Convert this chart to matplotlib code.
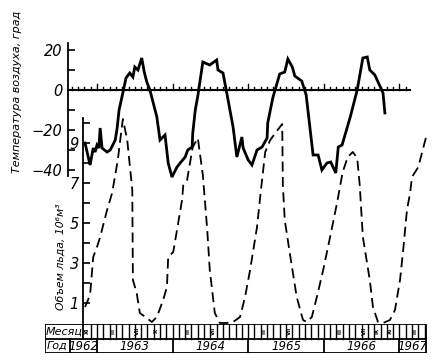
import matplotlib
matplotlib.use("Agg")
import matplotlib.pyplot as plt

# time in months counted from January 1962
temp_t = [10.1, 10.9, 11.4, 11.7, 12.0, 12.3, 12.5, 12.8, 13.6, 14.1, 14.9, 15.2, 15.5, 16.1,
          16.6, 17.2, 17.7, 18.0, 18.5, 19.1, 19.5, 19.9, 20.4, 21.5, 22.0, 22.8, 23.3, 23.9,
          24.7, 25.2, 26.0, 26.4, 27.1, 27.2, 27.6, 28.0, 28.8, 29.9, 31.0, 31.2, 32.0, 32.6,
          33.6, 34.2, 35.0, 35.2, 36.0, 36.6, 37.4, 38.2, 39.0, 39.1, 39.9, 41.0, 41.8, 42.3,
          43.0, 43.4, 44.5, 45.2, 46.3, 47.1, 47.7, 48.5, 49.1, 49.9, 50.3, 50.9, 52.2, 53.3,
          54.2, 54.9, 55.3, 56.1, 57.4, 57.7]
temp_v = [-26.5, -37.5, -29, -31, -27.5, -29, -19, -29, -31, -30, -25, -19, -10, -1.5,
          6, 8.5, 6.5, 11.5, 10, 16, 9, 4, 0, -13.5, -25, -22.5, -36.5, -43.5,
          -38.5, -36.5, -33.5, -30, -28.5, -21.5, -10, -3, 14, 12.5, 15, 10, 8.5, -1.5,
          -18.5, -33.5, -23.5, -29, -35, -37.5, -30, -28.5, -24, -16.5, -4, 8, 9, 15.5,
          11.5, 7, 4.5, -2.5, -32.5, -32.5, -40, -36.5, -36, -41.5, -28.5, -27.5, -13.5, 0,
          16, 16.5, 10, 7.5, -1.5, -11.5]

ice_t = [10.1, 10.9, 11.4, 12.0, 12.5, 13.6, 14.4, 15.3, 16.1, 16.8, 17.6, 17.7, 18.3, 18.8,
         19.9, 20.7, 21.5, 22.5, 23.1, 23.3, 24.1, 24.7, 25.5, 25.7, 26.3, 27.2, 28.0, 28.8,
         29.5, 29.9, 30.7, 31.5, 32.6, 33.6, 34.7, 35.5, 36.3, 37.4, 37.9, 38.7, 39.5, 40.3,
         41.4, 41.5, 41.8, 42.6, 43.7, 44.7, 45.3, 46.1, 46.9, 47.9, 49.0, 50.1, 51.0, 51.8,
         52.6, 53.3, 53.7, 54.2, 55.3, 55.8, 56.6, 57.4, 58.5, 59.3, 60.1, 60.6, 61.2, 61.7,
         62.0, 63.0, 64.4]
ice_v = [0.8, 1.4, 3.3, 3.8, 4.3, 5.65, 6.5, 8.15, 10.2, 9.15, 6.65, 2.15, 1.5, 0.5,
         0.25, 0.05, 0.3, 1.15, 1.8, 3.3, 3.55, 4.65, 6.15, 6.9, 7.15, 8.8, 9.25, 7.4,
         4.65, 2.65, 0.5, 0.0, 0.0, 0.05, 0.3, 1.3, 2.65, 4.8, 6.3, 8.55, 9.15, 9.5,
         9.95, 6.9, 5.15, 3.5, 1.3, 0.15, 0.05, 0.3, 1.3, 2.65, 4.3, 6.0, 7.55, 8.3,
         8.55, 8.25, 6.9, 4.3, 2.15, 0.8, 0.05, 0.0, 0.15, 0.65, 2.15, 3.65, 5.65, 6.5,
         7.3, 7.8, 9.5]

years = ["1962", "1963", "1964", "1965", "1966", "1967"]
year_starts = [7.7, 12, 24, 36, 48, 60]
roman = ["I", "II", "III", "IV", "V", "VI", "VII", "VIII", "IX", "X", "XI", "XII"]
marked_months = [10, 14, 18, 21, 26, 30, 38, 42, 50, 54, 56, 58, 62]

W, H = 438, 362
fig = plt.figure(figsize=(W / 100, H / 100), dpi=100)


def box(x0, y0, x1, y1):
    return [x0 / W, 1 - y1 / H, (x1 - x0) / W, (y1 - y0) / H]


def mon(px):
    return 12 + (px - 97) / 6.3


xl = (mon(45), mon(430))

# temperature
ax_t = fig.add_axes(box(45, 40, 430, 180))
ax_t.set_facecolor("none")
ax_t.set_xlim(xl)
ax_t.set_ylim(-45, 25)
for s in ["top", "right", "bottom"]:
    ax_t.spines[s].set_visible(False)
ax_t.spines["left"].set_position(("data", mon(68)))
ax_t.spines["left"].set_bounds(-43, 23.5)
ax_t.spines["left"].set_linewidth(1.3)
ax_t.set_xticks([])
ax_t.set_yticks([20, 0, -20, -40])
ax_t.set_yticklabels(["20", "0", "\u221220", "\u221240"], fontsize=10.5, style="italic")
ax_t.set_yticks([10, -10, -30], minor=True)
ax_t.tick_params(axis="y", which="both", direction="in", length=5, width=1.2, pad=4)
ax_t.plot([mon(68), mon(410)], [0, 0], color="black", lw=1.5)
for m in range(8, 62):
    h = 3 if m % 12 == 0 else 1.6
    ax_t.plot([m, m], [0, h], color="black", lw=1)
ax_t.plot(temp_t, temp_v, color="black", lw=2.0, solid_joinstyle="miter", clip_on=False)
ax_t.text(mon(17), -1, "Температура воздуха, град", rotation=90, fontsize=8.0,
          style="italic", ha="center", va="center", clip_on=False)

# ice volume
ax_v = fig.add_axes(box(45, 110, 430, 323))
ax_v.set_facecolor("none")
ax_v.set_xlim(xl)
ax_v.set_ylim(0, 10.65)
for s in ["top", "right", "bottom"]:
    ax_v.spines[s].set_visible(False)
ax_v.spines["left"].set_position(("data", 9.8))
ax_v.spines["left"].set_bounds(0, 10.25)
ax_v.spines["left"].set_linewidth(1.3)
ax_v.set_xticks([])
ax_v.set_yticks([1, 3, 5, 7, 9])
ax_v.set_yticklabels(["1", "3", "5", "7", "9"], fontsize=10.5, style="italic")
ax_v.set_yticks([2, 4, 6, 8, 10], minor=True)
ax_v.tick_params(axis="y", which="both", direction="in", length=5, width=1.2, pad=3)
ax_v.plot(ice_t, ice_v, color="black", lw=1.3, dashes=(5.5, 3), clip_on=False)
ax_v.text(mon(61), 3.3, "Объем льда, 10\u2076м\u00b3", rotation=90, fontsize=7.8,
          style="italic", ha="center", va="center")

# month / year table
ax_b = fig.add_axes(box(45, 324, 430, 353))
ax_b.set_xlim(xl)
ax_b.set_ylim(0, 2)
ax_b.axis("off")
x0, x1 = mon(45), mon(426)
kw = dict(color="black", lw=1.3)
ax_b.plot([x0, x1, x1, x0, x0], [0, 0, 2, 2, 0], **kw)
ax_b.plot([x0, x1], [1, 1], **kw)
ax_b.plot([9.8, 9.8], [1, 2], **kw)
for m in range(11, 65):
    ax_b.plot([m, m], [1, 2], color="black", lw=1)
for m in marked_months:
    ax_b.text(m + 0.5, 1.5, roman[m % 12], rotation=90, fontsize=4, ha="center",
              va="center", fontweight="bold")
for ys in year_starts:
    ax_b.plot([ys, ys], [0, 1], **kw)
ends = year_starts[1:] + [x1]
for lab, a, b in zip(years, year_starts, ends):
    ax_b.text((a + b) / 2, 0.45, lab, fontsize=8.5, style="italic", ha="center", va="center")
ax_b.text((x0 + 9.8) / 2, 1.5, "Месяц", fontsize=8, style="italic", ha="center", va="center")
ax_b.text((x0 + 7.7) / 2, 0.5, "Год", fontsize=8, style="italic", ha="center", va="center")

fig.savefig("out.png", dpi=100, facecolor="white")
